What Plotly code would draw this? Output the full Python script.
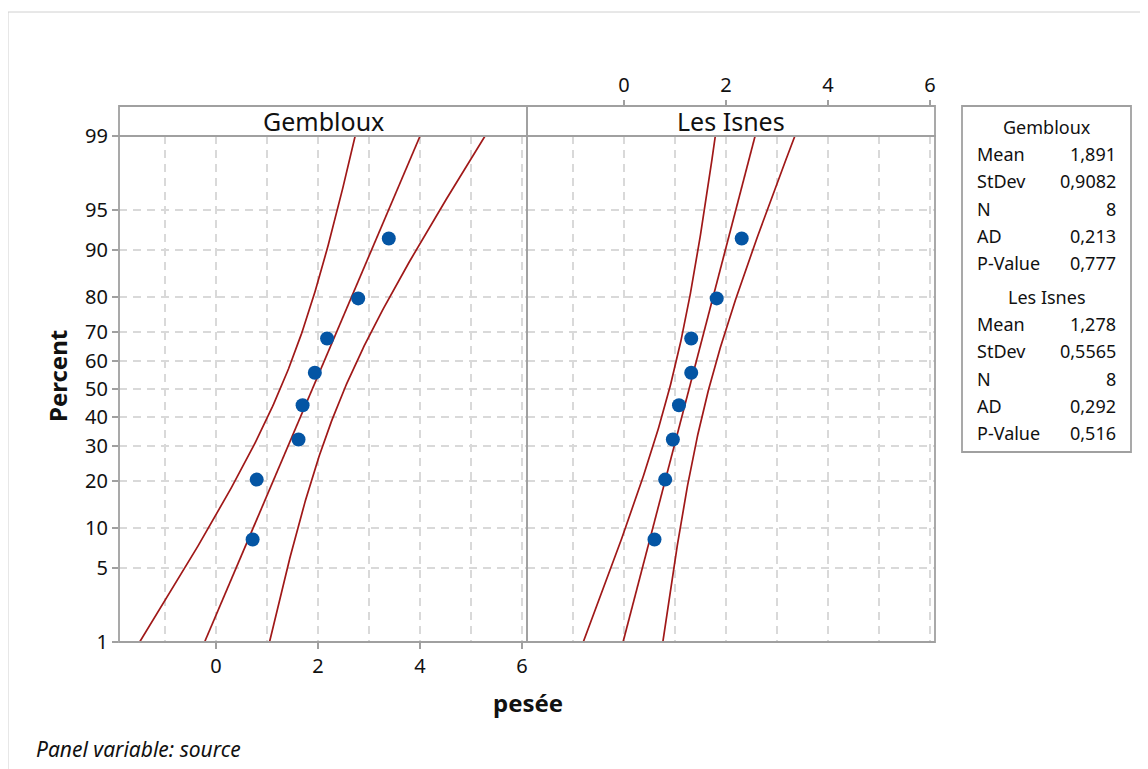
import plotly.graph_objects as go
from statistics import NormalDist
import math

# ---------------- data ----------------
panels = ["Gembloux", "Les Isnes"]
gembloux_vals = [0.72, 0.80, 1.62, 1.70, 1.94, 2.18, 2.79, 3.39]
lesisnes_vals = [0.60, 0.81, 0.96, 1.08, 1.32, 1.32, 1.82, 2.31]
plot_percent = [8.33, 20.24, 32.14, 44.05, 55.95, 67.86, 79.76, 91.67]

stat_labels = ["Mean", "StDev", "N", "AD", "P-Value"]
gembloux_stats = ["1,891", "0,9082", "8", "0,213", "0,777"]
lesisnes_stats = ["1,278", "0,5565", "8", "0,292", "0,516"]
gembloux_fit = (1.891, 0.9082, 8)
lesisnes_fit = (1.278, 0.5565, 8)

y_ticks_pct = [1, 5, 10, 20, 30, 40, 50, 60, 70, 80, 90, 95, 99]
x_ticks = [0, 2, 4, 6]
x_range = [-1.9, 6.1]

# ---------------- helpers ----------------
nd = NormalDist()
def z(p):
    return nd.inv_cdf(p / 100.0)

# the page body has an 8px margin; the figure is sized so it ends at the window edge
OFF = 8
W, H = 1148 - OFF, 769 - OFF
def px(x):
    return (x - OFF) / W
def py(y):
    return (H - (y - OFF)) / H

zlo, zhi = z(1), z(99)
LINE = "#A01818"
MARK = "#0455A4"
GRID = "#d9d9d9"
BORDER = "#a0a0a0"
FONT = "Noto Sans"
TXT = "#111111"

fig = go.Figure()

def add_panel(vals, fit, xa):
    mu, sd, n = fit
    zs = [zlo + (zhi - zlo) * i / 200 for i in range(201)]
    mid = [mu + sd * t for t in zs]
    half = [1.96 * sd * math.sqrt(1.0 / n + t * t / (2 * (n - 1))) for t in zs]
    lo = [m - h for m, h in zip(mid, half)]
    hi = [m + h for m, h in zip(mid, half)]
    for xs in (lo, mid, hi):
        fig.add_trace(go.Scatter(x=xs, y=zs, mode="lines", xaxis=xa, yaxis="y",
                                 line=dict(color=LINE, width=1.7), hoverinfo="skip",
                                 showlegend=False))
    fig.add_trace(go.Scatter(x=vals, y=[z(p) for p in plot_percent], mode="markers",
                             xaxis=xa, yaxis="y",
                             marker=dict(color=MARK, size=14, line=dict(width=0)),
                             showlegend=False))

add_panel(gembloux_vals, gembloux_fit, "x")
add_panel(lesisnes_vals, lesisnes_fit, "x2")

L1, R1, L2, R2 = 119, 527, 527, 935
TOP, BOT, STRIP = 136, 642, 106

GDASH = "8px,6px"
common_x = dict(range=x_range, tickvals=x_ticks, ticktext=[str(v) for v in x_ticks],
                automargin=False,
                showgrid=True, gridcolor=GRID, griddash=GDASH, gridwidth=1.6,
                minor=dict(dtick=1, tick0=0, showgrid=True, gridcolor=GRID,
                           griddash=GDASH, gridwidth=1.6, ticks=""),
                zeroline=False, showline=False, ticks="outside", ticklen=6,
                tickcolor=BORDER, tickwidth=1.5,
                tickfont=dict(family=FONT, size=20, color=TXT))

fig.update_layout(
    template="none",
    width=W, height=H, autosize=False,
    margin=dict(l=0, r=0, t=0, b=0, pad=0),
    paper_bgcolor="white", plot_bgcolor="white",
    xaxis=dict(domain=[px(L1), px(R1)], anchor="y", side="bottom", **common_x),
    xaxis2=dict(domain=[px(L2), px(R2)], anchor="free", side="top",
                position=py(STRIP), **common_x),
    yaxis=dict(domain=[py(BOT), py(TOP)], range=[zlo, zhi], anchor="x",
               automargin=False,
               tickvals=[z(p) for p in y_ticks_pct],
               ticktext=[str(p) for p in y_ticks_pct],
               showgrid=True, gridcolor=GRID, griddash=GDASH, gridwidth=1.6,
               zeroline=False, showline=False, ticks="outside", ticklen=6,
               tickcolor=BORDER, tickwidth=1.5,
               tickfont=dict(family=FONT, size=20, color=TXT)),
    showlegend=False,
)

shapes = []
# outer frame lines
shapes.append(dict(type="line", xref="paper", yref="paper", x0=px(8), x1=1, y0=py(12), y1=py(12),
                   line=dict(color="#d0d0d0", width=1)))
shapes.append(dict(type="line", xref="paper", yref="paper", x0=px(8), x1=px(8), y0=0, y1=py(12),
                   line=dict(color="#d0d0d0", width=1)))
# panel borders and strips
for l, r in ((L1, R1), (L2, R2)):
    shapes.append(dict(type="rect", xref="paper", yref="paper", x0=px(l), x1=px(r),
                       y0=py(BOT), y1=py(TOP), line=dict(color=BORDER, width=1.8)))
    shapes.append(dict(type="rect", xref="paper", yref="paper", x0=px(l), x1=px(r),
                       y0=py(TOP), y1=py(STRIP), line=dict(color=BORDER, width=1.8)))
# stats box
shapes.append(dict(type="rect", xref="paper", yref="paper", x0=px(962), x1=px(1131),
                   y0=py(452), y1=py(106), line=dict(color=BORDER, width=1.8)))
fig.update_layout(shapes=shapes)

ann = []
for name, l, r in ((panels[0], L1, R1), (panels[1], L2, R2)):
    ann.append(dict(text=name, x=px((l + r) / 2), y=py(121), xref="paper", yref="paper",
                    showarrow=False, xanchor="center", yanchor="middle",
                    font=dict(family=FONT, size=25, color=TXT)))
ann.append(dict(text="<b>Percent</b>", x=px(57), y=py(376), xref="paper", yref="paper",
                showarrow=False, textangle=-90, xanchor="center", yanchor="middle",
                font=dict(family=FONT, size=24, color=TXT)))
ann.append(dict(text="<b>pesée</b>", x=px(528), y=py(702), xref="paper", yref="paper",
                showarrow=False, xanchor="center", yanchor="middle",
                font=dict(family=FONT, size=24, color=TXT)))
ann.append(dict(text="<i>Panel variable: source</i>", x=px(34), y=py(749), xref="paper",
                yref="paper", showarrow=False, xanchor="left", yanchor="middle",
                font=dict(family=FONT, size=21, color=TXT)))

def stats_block(title, vals, y0):
    ann.append(dict(text=title, x=px(1047), y=py(y0), xref="paper", yref="paper",
                    showarrow=False, xanchor="center", yanchor="middle",
                    font=dict(family=FONT, size=18, color=TXT)))
    for i, (lab, v) in enumerate(zip(stat_labels, vals)):
        yy = y0 + 27.2 * (i + 1)
        ann.append(dict(text=lab, x=px(975), y=py(yy), xref="paper", yref="paper",
                        showarrow=False, xanchor="left", yanchor="middle",
                        font=dict(family=FONT, size=18, color=TXT)))
        ann.append(dict(text=v, x=px(1118), y=py(yy), xref="paper", yref="paper",
                        showarrow=False, xanchor="right", yanchor="middle",
                        font=dict(family=FONT, size=18, color=TXT)))

stats_block(panels[0], gembloux_stats, 127)
stats_block(panels[1], lesisnes_stats, 297)
fig.update_layout(annotations=ann)

fig.write_html("out.html")
